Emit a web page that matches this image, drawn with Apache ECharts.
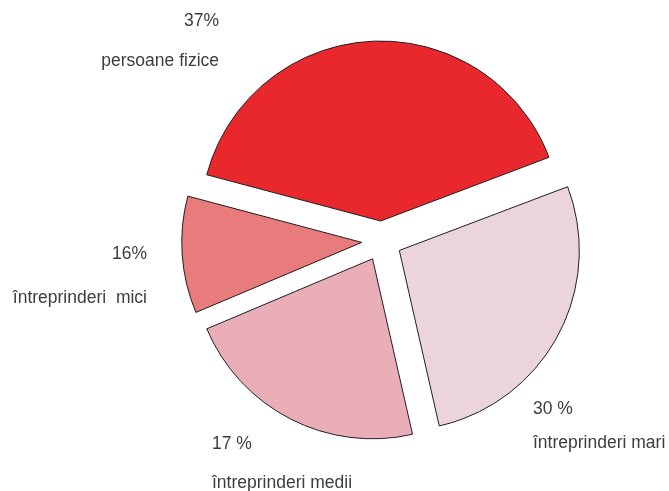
<!DOCTYPE html>
<html>
<head>
<meta charset="utf-8">
<script src="https://cdn.jsdelivr.net/npm/echarts@6/dist/echarts.min.js"></script>
<style>
html,body{margin:0;padding:0;background:#fff;}
#chart{width:669px;height:491px;}
</style>
</head>
<body>
<div id="chart"></div>
<script>
// Slice names (clockwise from the upper-left edge of the red slice)
var categories = ['persoane fizice', 'întreprinderi mari', 'întreprinderi medii', 'întreprinderi  mici'];
// Slice sizes as drawn in the picture (angular shares, %)
var sliceShares = [40.1, 27.2, 22.2, 10.5];
// Percentage labels as printed in the picture
var percentLabels = ['37%', '30 %', '17 %', '16%'];
var sliceColors = ['#E9282D', '#EBD5DA', '#E9AEB8', '#E87B7B'];

var chart = echarts.init(document.getElementById('chart'), null, {renderer: 'canvas'});

var data = categories.map(function (c, i) {
  return {
    name: c,
    value: sliceShares[i],
    selected: true,
    itemStyle: {color: sliceColors[i]},
    select: {itemStyle: {color: sliceColors[i], borderColor: '#231F20', borderWidth: 1}}
  };
});

function txt(text, x, y, align) {
  return {type: 'text', x: x, y: y, silent: true,
    style: {text: text, align: align, verticalAlign: 'middle',
      fontFamily: 'Liberation Sans, Arial, sans-serif', fontSize: 17.5, fill: '#3d3d3d'}};
}
// label placement: [x, yPercent, yName, align]
var labelPos = [
  [219, 21, 61, 'right'],
  [533, 409, 443, 'left'],
  [212, 444, 483, 'left'],
  [147, 254, 298, 'right']
];
var graphics = [];
categories.forEach(function (c, i) {
  var p = labelPos[i];
  graphics.push(txt(percentLabels[i], p[0], p[1], p[3]));
  graphics.push(txt(c, p[0], p[2], p[3]));
});

chart.setOption({
  animation: false,
  backgroundColor: '#ffffff',
  graphic: graphics,
  series: [{
    type: 'pie',
    center: [381.7, 241],
    radius: 180,
    startAngle: 165.1,
    clockwise: true,
    selectedMode: 'multiple',
    selectedOffset: 20,
    avoidLabelOverlap: false,
    label: {show: false},
    labelLine: {show: false},
    itemStyle: {borderColor: '#231F20', borderWidth: 1},
    emphasis: {scale: false, disabled: true},
    data: data
  }]
});
</script>
</body>
</html>
